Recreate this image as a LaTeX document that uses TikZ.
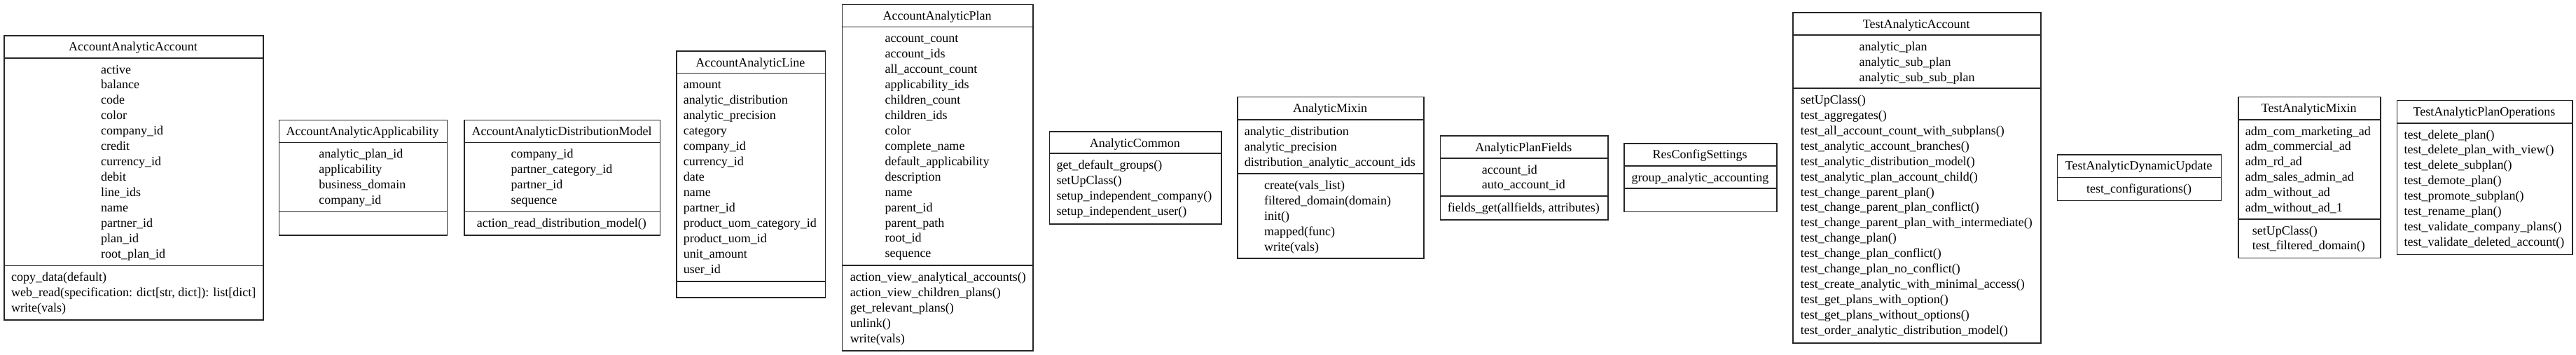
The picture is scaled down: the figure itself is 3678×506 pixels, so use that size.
\documentclass[tikz,border=0pt]{standalone}
\usepackage{fontspec}
\setmainfont{Liberation Serif}
\begin{document}
\begin{tikzpicture}[x=1pt,y=1pt,
  classbox/.style={draw=black!85,line width=1.6pt,inner sep=0pt,anchor=north west},
  sepline/.style={draw=black!85,line width=1.6pt},
  rowtext/.style={anchor=base west,inner sep=0pt,font=\fontsize{18}{22}\selectfont},
  titletext/.style={anchor=base,inner sep=0pt,font=\fontsize{18}{22}\selectfont}]
\useasboundingbox (0,0) rectangle (3678,-506);
\fill[white] (0,0) rectangle (3678,-506);
% #1 id, #2 L, #3 R, #4 T, #5 B, #6 title
\newcommand\umlbox[6]{%
  \node[classbox,minimum width={(#3)-(#2)},minimum height={(#5)-(#4)}] (#1) at (#2,-#4) {};
  \node[titletext] (#1-t) at ({((#2)+(#3))/2},{-(#4)-22.8}) {#6};}
% #1 id, #2 y
\newcommand\umlsep[2]{\draw[sepline] (#1.west |- 0,-#2) -- (#1.east |- 0,-#2);}
% #1 prefix, #2 x, #3 section top, #4 list
\newcommand\umlrows[4]{%
  \foreach \t [count=\i] in {#4} {\node[rowtext] (#1\i) at (#2,{-(#3)-22.3-(\i-1)*21.95}) {\t};}}

% 1 AccountAnalyticAccount
\umlbox{aaa}{5}{375}{50}{456}{AccountAnalyticAccount}
\umlsep{aaa}{82.7}\umlsep{aaa}{379.3}
\umlrows{aaa-a}{144}{82.7}{active,balance,code,color,company\_id,credit,currency\_id,debit,line\_ids,name,partner\_id,plan\_id,root\_plan\_id}
\umlrows{aaa-m}{16}{379.3}{copy\_data(default),{web\_read(specification: dict[str, dict]): list[dict]},write(vals)}

% 2 AccountAnalyticApplicability
\umlbox{aapp}{397.7}{637.6}{170.7}{335}{AccountAnalyticApplicability}
\umlsep{aapp}{203.3}\umlsep{aapp}{302.3}
\umlrows{aapp-a}{455.2}{203.3}{analytic\_plan\_id,applicability,business\_domain,company\_id}

% 3 AccountAnalyticDistributionModel
\umlbox{aadm}{662.3}{941.7}{170.7}{335}{AccountAnalyticDistributionModel}
\umlsep{aadm}{203.3}\umlsep{aadm}{302.3}
\umlrows{aadm-a}{729.3}{203.3}{company\_id,partner\_category\_id,partner\_id,sequence}
\umlrows{aadm-m}{680.7}{302.3}{action\_read\_distribution\_model()}

% 4 AccountAnalyticLine
\umlbox{aal}{965}{1177.7}{72.3}{424.3}{AccountAnalyticLine}
\umlsep{aal}{104.3}\umlsep{aal}{401.7}
\umlrows{aal-a}{975.7}{104.3}{amount,analytic\_distribution,analytic\_precision,category,company\_id,currency\_id,date,name,partner\_id,product\_uom\_category\_id,product\_uom\_id,unit\_amount,user\_id}

% 5 AccountAnalyticPlan
\umlbox{aap}{1201.7}{1474.3}{5.7}{500}{AccountAnalyticPlan}
\umlsep{aap}{38.3}\umlsep{aap}{379}
\umlrows{aap-a}{1263.3}{38.3}{account\_count,account\_ids,all\_account\_count,applicability\_ids,children\_count,children\_ids,color,complete\_name,default\_applicability,description,name,parent\_id,parent\_path,root\_id,sequence}
\umlrows{aap-m}{1213.7}{379}{action\_view\_analytical\_accounts(),action\_view\_children\_plans(),get\_relevant\_plans(),unlink(),write(vals)}

% 6 AnalyticCommon
\umlbox{ac}{1497.7}{1743}{187.3}{319}{AnalyticCommon}
\umlsep{ac}{219}
\umlrows{ac-m}{1508.3}{219}{get\_default\_groups(),setUpClass(),setup\_independent\_company(),setup\_independent\_user()}

% 7 AnalyticMixin
\umlbox{am}{1766}{2032}{137.7}{368}{AnalyticMixin}
\umlsep{am}{171}\umlsep{am}{248}
\umlrows{am-a}{1776.7}{171}{analytic\_distribution,analytic\_precision,distribution\_analytic\_account\_ids}
\umlrows{am-m}{1805}{248}{create(vals\_list),filtered\_domain(domain),init(),mapped(func),write(vals)}

% 8 AnalyticPlanFields
\umlbox{apf}{2055.7}{2295}{193.3}{313.3}{AnalyticPlanFields}
\umlsep{apf}{225.7}\umlsep{apf}{280}
\umlrows{apf-a}{2115.7}{225.7}{account\_id,auto\_account\_id}
\umlrows{apf-m}{2066.7}{280}{{fields\_get(allfields, attributes)}}

% 9 ResConfigSettings
\umlbox{rcs}{2318.3}{2536}{204}{301.7}{ResConfigSettings}
\umlsep{rcs}{236.7}\umlsep{rcs}{269}
\umlrows{rcs-a}{2329.3}{236.7}{group\_analytic\_accounting}

% 10 TestAnalyticAccount
\umlbox{taa}{2559.3}{2913.3}{17.3}{489}{TestAnalyticAccount}
\umlsep{taa}{50}\umlsep{taa}{126}
\umlrows{taa-a}{2654.3}{50}{analytic\_plan,analytic\_sub\_plan,analytic\_sub\_sub\_plan}
\umlrows{taa-m}{2570.7}{126}{setUpClass(),test\_aggregates(),test\_all\_account\_count\_with\_subplans(),test\_analytic\_account\_branches(),test\_analytic\_distribution\_model(),test\_analytic\_plan\_account\_child(),test\_change\_parent\_plan(),test\_change\_parent\_plan\_conflict(),test\_change\_parent\_plan\_with\_intermediate(),test\_change\_plan(),test\_change\_plan\_conflict(),test\_change\_plan\_no\_conflict(),test\_create\_analytic\_with\_minimal\_access(),test\_get\_plans\_with\_option(),test\_get\_plans\_without\_options(),test\_order\_analytic\_distribution\_model()}

% 11 TestAnalyticDynamicUpdate
\umlbox{tadu}{2936.7}{3170.7}{220}{285.7}{TestAnalyticDynamicUpdate}
\umlsep{tadu}{253.3}
\umlrows{tadu-m}{2979}{253.3}{test\_configurations()}

% 12 TestAnalyticMixin
\umlbox{tam}{3195}{3398.3}{137.7}{367.7}{TestAnalyticMixin}
\umlsep{tam}{170.7}\umlsep{tam}{312.7}
\umlrows{tam-a}{3205.7}{170.7}{adm\_com\_marketing\_ad,adm\_commercial\_ad,adm\_rd\_ad,adm\_sales\_admin\_ad,adm\_without\_ad,adm\_without\_ad\_1}
\umlrows{tam-m}{3215.7}{312.7}{setUpClass(),test\_filtered\_domain()}

% 13 TestAnalyticPlanOperations
\umlbox{tapo}{3421.7}{3672.3}{142.7}{362.7}{TestAnalyticPlanOperations}
\umlsep{tapo}{175.7}
\umlrows{tapo-m}{3432.3}{175.7}{test\_delete\_plan(),test\_delete\_plan\_with\_view(),test\_delete\_subplan(),test\_demote\_plan(),test\_promote\_subplan(),test\_rename\_plan(),test\_validate\_company\_plans(),test\_validate\_deleted\_account()}
\end{tikzpicture}
\end{document}
